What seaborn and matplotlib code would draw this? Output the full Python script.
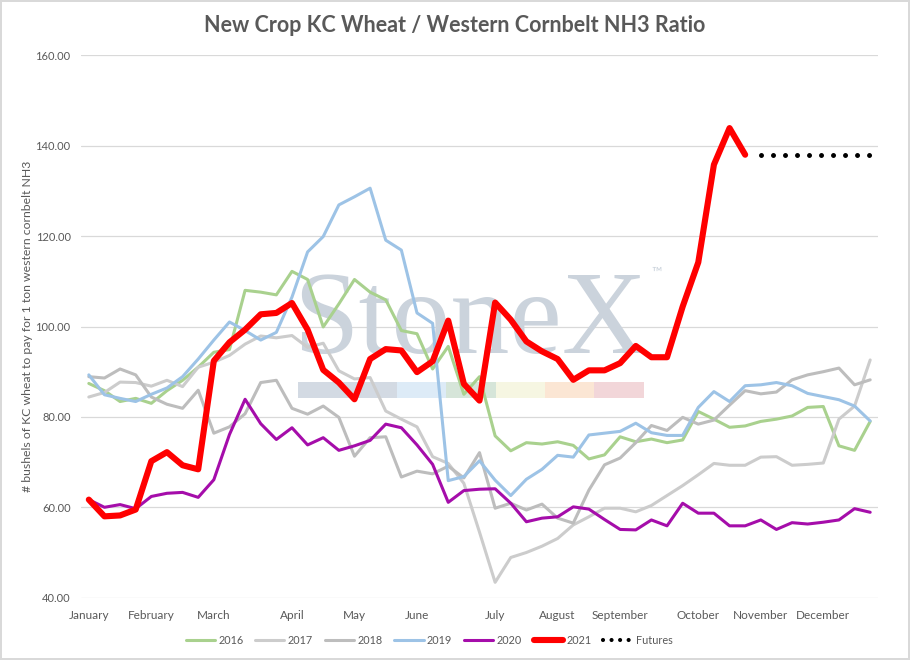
import numpy as np
import pandas as pd
import seaborn as sns
import matplotlib.pyplot as plt
from matplotlib.patches import Rectangle
from matplotlib.lines import Line2D

# weekly ratio, bushels KC wheat per ton NH3
y2016 = [87.4, 85.8, 83.4, 84.1, 83.0, 85.8, 88.1, 91.0, 94.3, 94.9,
         108.0, 107.6, 107.0, 112.2, 110.4, 99.9, 105.0, 110.4, 107.6, 105.9,
         99.1, 98.4, 90.6, 95.6, 85.0, 88.9, 75.8, 72.5, 74.3, 74.0,
         74.5, 73.7, 70.7, 71.6, 75.6, 74.5, 75.1, 74.3, 74.9, 81.2,
         79.5, 77.7, 78.0, 79.0, 79.5, 80.2, 82.1, 82.3, 73.6, 72.6, 79.0]
y2017 = [84.4, 85.4, 87.7, 87.6, 86.8, 88.1, 86.7, 91.0, 92.1, 93.6,
         96.1, 97.9, 97.5, 98.0, 95.4, 96.3, 90.2, 88.4, 88.7, 81.3,
         79.5, 77.8, 71.2, 69.7, 65.3, 54.5, 43.4, 48.9, 50.0, 51.4,
         53.1, 56.1, 57.9, 59.8, 59.8, 59.0, 60.4, 62.6, 64.8, 67.2,
         69.7, 69.3, 69.3, 71.1, 71.2, 69.3, 69.5, 69.8, 79.5, 82.4, 92.6]
y2018 = [88.9, 88.6, 90.6, 89.3, 84.4, 82.8, 81.9, 85.9, 76.4, 77.8,
         80.7, 87.6, 88.1, 81.9, 80.6, 82.4, 79.9, 71.3, 75.4, 75.6,
         66.7, 68.0, 67.4, 69.1, 66.5, 72.1, 59.8, 60.9, 59.4, 60.7,
         57.6, 56.5, 63.8, 69.4, 70.9, 74.3, 78.1, 77.0, 79.9, 78.4,
         79.3, 82.6, 85.8, 85.1, 85.5, 88.2, 89.3, 90.0, 90.8, 87.1, 88.2]
y2019 = [89.3, 84.9, 84.1, 83.4, 85.0, 86.4, 88.9, 92.8, 97.0, 101.0,
         99.1, 97.0, 98.7, 106.5, 116.5, 119.9, 126.9, 128.7, 130.6, 119.1,
         116.9, 103.0, 100.7, 65.9, 66.8, 70.3, 66.0, 62.6, 66.2, 68.4,
         71.5, 71.1, 76.0, 76.4, 76.8, 78.6, 76.5, 75.9, 75.9, 82.1,
         85.6, 83.4, 86.9, 87.1, 87.6, 86.9, 85.2, 84.5, 83.8, 82.4, 79.1]
y2020 = [61.7, 60.0, 60.6, 59.7, 62.4, 63.1, 63.3, 62.2, 66.1, 76.1,
         83.9, 78.5, 75.0, 77.6, 73.8, 75.4, 72.6, 73.6, 74.8, 78.4,
         77.6, 73.8, 69.5, 61.1, 63.7, 64.0, 64.1, 60.9, 56.8, 57.6,
         57.9, 60.1, 59.6, 57.3, 55.1, 55.0, 57.2, 55.9, 60.9, 58.7,
         58.7, 55.9, 55.9, 57.2, 55.1, 56.6, 56.3, 56.7, 57.2, 59.7, 58.9]
y2021 = [61.7, 58.0, 58.2, 59.5, 70.2, 72.2, 69.3, 68.4, 92.4, 96.5,
         99.3, 102.7, 103.0, 105.2, 99.3, 90.4, 87.6, 83.9, 92.8, 95.0,
         94.7, 89.9, 92.3, 101.3, 87.3, 83.6, 105.3, 101.5, 96.7, 94.5,
         92.8, 88.2, 90.3, 90.3, 91.9, 95.7, 93.2, 93.2, 104.4, 114.2,
         135.8, 143.9, 138.0]
futures = [138.0, 138.0, 138.0, 138.0, 138.0, 138.0, 138.0, 138.0]

month_labels = ["January", "February", "March", "April", "May", "June",
                "July", "August", "September", "October", "November", "December"]
month_weeks = [0, 4, 8, 13, 17, 21, 26, 30, 34, 39, 43, 47]

sns.set_style("white")
plt.rcParams['font.family'] = ['Lato', 'DejaVu Sans']
txt = '#595959'

fig = plt.figure(figsize=(9.1, 6.6), dpi=100, edgecolor='#D9D9D9', linewidth=1.5)
ax = fig.add_axes([81/910, 1-597.7/660, 797/910, 542.4/660])

series = [("2016", y2016, '#A9D18E'),
          ("2017", y2017, '#CCCCCC'),
          ("2018", y2018, '#BDBDBD'),
          ("2019", y2019, '#9DC3E6'),
          ("2020", y2020, '#A50DAA')]
for name, vals, col in series:
    sns.lineplot(x=np.arange(len(vals)), y=vals, color=col, linewidth=2.2,
                 label=name, ax=ax, zorder=3)
sns.lineplot(x=np.arange(len(y2021)), y=y2021, color='#FF0000', linewidth=4.4,
             label="2021", ax=ax, zorder=4)
fut_x = len(y2021) + np.arange(len(futures))
sns.lineplot(x=fut_x, y=futures, color='black', linewidth=3.6,
             linestyle=(0, (0.001, 2.4)), dash_capstyle='round',
             label="Futures", ax=ax, zorder=4)

ax.set_xlim(-0.5, 50.5)
ax.set_ylim(40, 160)
ax.set_yticks(np.arange(40, 161, 20))
ax.set_yticklabels([f"{v:.2f}" for v in np.arange(40, 161, 20)])
ax.set_xticks(month_weeks)
ax.set_xticklabels(month_labels)
ax.tick_params(axis='both', length=0, labelsize=8.5, labelcolor=txt)
ax.tick_params(axis='y', pad=7.5, labelsize=8)
ax.tick_params(axis='x', pad=9)
ax.grid(axis='y', color='#D9D9D9', linewidth=0.9)
ax.set_axisbelow(True)
for s in ax.spines.values():
    s.set_visible(False)
ax.set_xlabel("")
ax.set_ylabel("# bushels of KC wheat to pay for 1 ton western cornbelt NH3",
              fontsize=8.8, color=txt)
ax.yaxis.set_label_coords(-0.060, 0.5)

fig.text(455/910, 1-25/660, "New Crop KC Wheat / Western Cornbelt NH3 Ratio",
         ha='center', va='center', fontsize=15.5, fontweight='bold', color=txt)

# StoneX watermark behind the lines
ax.text(470/910, 1-353/660, "StoneX", transform=fig.transFigure, ha='center',
        va='baseline', fontsize=85, family='Liberation Serif', color='#CBD3DC',
        zorder=1)
ax.text(657/910, 1-273/660, "\u2122", transform=fig.transFigure, ha='center',
        va='center', fontsize=10, color='#CBD3DC', zorder=1)
bar_edges = [297.7, 396.7, 446, 495.7, 545, 594, 643.7]
bar_cols = ['#D3DAE3', '#DDEBF7', '#D6E5D9', '#F6F6E2', '#FBE6D4', '#F2D6D9']
for x0, x1, c in zip(bar_edges[:-1], bar_edges[1:], bar_cols):
    ax.add_patch(Rectangle((x0/910, 1-398/660), (x1-x0)/910, 16/660,
                           transform=fig.transFigure, color=c, zorder=1, lw=0))

handles, labels = ax.get_legend_handles_labels()
handles[-1] = Line2D([], [], color='black', linewidth=3.0,
                     linestyle=(0, (0.001, 2.05)), dash_capstyle='round')
ax.legend(handles, labels, loc='center', bbox_to_anchor=(429/910, 1-640/660),
          bbox_transform=fig.transFigure, ncol=7, frameon=False,
          fontsize=7.8, handlelength=2.7, handletextpad=0.3,
          columnspacing=1.1, labelcolor=txt)

fig.savefig("out.png", dpi=100, edgecolor=fig.get_edgecolor())
